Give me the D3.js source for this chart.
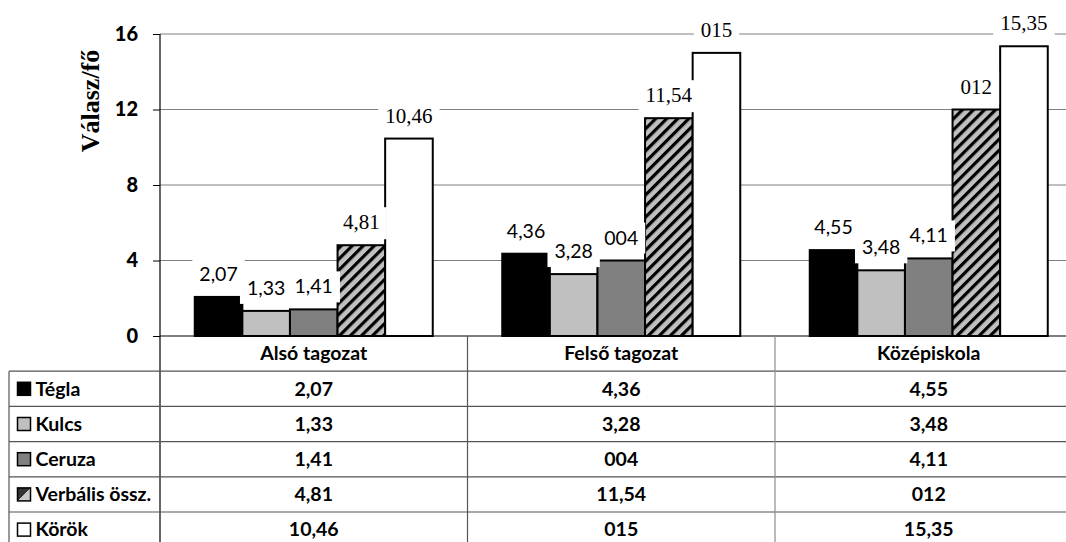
<!DOCTYPE html>
<html>
<head>
<meta charset="utf-8">
<script src="https://cdn.jsdelivr.net/npm/d3@7"></script>
<style>
  html, body { margin: 0; padding: 0; background: #fff; }
  svg { display: block; }
</style>
</head>
<body>
<svg id="chart" width="1066" height="542"></svg>
<script>
// ---- data ----
const categories = ["Alsó tagozat", "Felső tagozat", "Középiskola"];
const seriesNames = ["Tégla", "Kulcs", "Ceruza", "Verbális össz.", "Körök"];
const tegla = [2.07, 4.36, 4.55];
const kulcs = [1.33, 3.28, 3.48];
const ceruza = [1.41, 4, 4.11];
const verbalis = [4.81, 11.54, 12];
const korok = [10.46, 15, 15.35];
const yTicks = [0, 4, 8, 12, 16];
const yTitle = "Válasz/fő";

const seriesValues = [tegla, kulcs, ceruza, verbalis, korok];

// ---- layout ----
const W = 1066, H = 542;
const plotLeft = 160, plotTop = 34, plotBottom = 336;
const bandW = 307.5;
const groupW = 238;
const rowH = 35.2;
const tableLeft = 9;

const svg = d3.select("#chart");
svg.append("rect").attr("width", W).attr("height", H).attr("fill", "#fff");

const defs = svg.append("defs");
const hatch = defs.append("pattern")
  .attr("id", "hatch")
  .attr("patternUnits", "userSpaceOnUse")
  .attr("width", 7.8).attr("height", 7.8)
  .attr("patternTransform", "rotate(45)");
hatch.append("rect").attr("width", 7.8).attr("height", 7.8).attr("fill", "#c0c0c0");
hatch.append("rect").attr("x", 0).attr("width", 3.2).attr("height", 7.8).attr("fill", "#000");

const keyGrad = defs.append("linearGradient")
  .attr("id", "keyGrad").attr("x1", 0).attr("y1", 0).attr("x2", 1).attr("y2", 1);
keyGrad.append("stop").attr("offset", "50%").attr("stop-color", "#333");
keyGrad.append("stop").attr("offset", "50%").attr("stop-color", "#c8c8c8");

const fills = ["#000000", "#c0c0c0", "#808080", "url(#hatch)", "#ffffff"];
const keyFills = ["#000000", "#c0c0c0", "#808080", "url(#keyGrad)", "#ffffff"];
const serifSeries = [false, false, false, true, true];

// ---- scales ----
const x0 = d3.scaleBand()
  .domain(categories)
  .range([plotLeft, plotLeft + bandW * categories.length])
  .paddingInner(0).paddingOuter(0);
const x1 = d3.scaleBand()
  .domain(seriesNames)
  .range([(bandW - groupW) / 2, (bandW + groupW) / 2])
  .padding(0);
const y = d3.scaleLinear().domain([0, 16]).range([plotBottom, plotTop]);

const locale = d3.formatLocale({ decimal: ",", thousands: " ", grouping: [3], currency: ["", ""] });
const fmt2 = locale.format(".2f");
const fmtInt = d3.format("03d");
const fmt = v => Number.isInteger(v) ? fmtInt(v) : fmt2(v);

const sansFont = "Lato, 'Open Sans', sans-serif";
const serifFont = "'Liberation Serif', 'Times New Roman', serif";

// ---- gridlines ----
svg.append("g")
  .selectAll("line")
  .data(yTicks.filter(t => t > 0))
  .join("line")
  .attr("x1", plotLeft).attr("x2", W)
  .attr("y1", d => y(d)).attr("y2", d => y(d))
  .attr("stroke", "#7f7f7f").attr("stroke-width", 1);

// ---- y axis ----
const yAxis = d3.axisLeft(y).tickValues(yTicks).tickSize(7).tickPadding(15).tickFormat(d3.format("d"));
const yg = svg.append("g").attr("transform", `translate(${plotLeft},0)`).call(yAxis);
yg.select(".domain").remove();
yg.selectAll(".tick line").attr("stroke", "#000").attr("stroke-width", 1);
yg.selectAll(".tick text")
  .attr("font-family", sansFont)
  .attr("font-weight", "900")
  .attr("font-size", 20)
  .attr("fill", "#000");

svg.append("text")
  .attr("transform", `translate(99,101) rotate(-90)`)
  .attr("text-anchor", "middle")
  .attr("font-family", serifFont)
  .attr("font-weight", "bold")
  .attr("font-size", 26)
  .attr("fill", "#000")
  .text(yTitle);

// ---- bars ----
const barData = [];
seriesNames.forEach((s, si) => {
  categories.forEach((c, ci) => {
    barData.push({ series: s, si, cat: c, value: seriesValues[si][ci] });
  });
});

svg.append("g")
  .selectAll("rect")
  .data(barData)
  .join("rect")
  .attr("x", d => x0(d.cat) + x1(d.series))
  .attr("y", d => y(d.value))
  .attr("width", x1.bandwidth())
  .attr("height", d => y(0) - y(d.value))
  .attr("fill", d => fills[d.si])
  .attr("stroke", "#000")
  .attr("stroke-width", 2);

// ---- bar value labels (white boxed) ----
const labelG = svg.append("g");
barData.forEach(d => {
  const g = labelG.append("g");
  const cx = x0(d.cat) + x1(d.series) + x1.bandwidth() / 2;
  const t = g.append("text")
    .attr("x", cx)
    .attr("y", y(d.value) - 16)
    .attr("text-anchor", "middle")
    .attr("font-family", serifSeries[d.si] ? serifFont : sansFont)
    .attr("font-size", serifSeries[d.si] ? 21 : 19.5)
    .attr("fill", "#000")
    .text(fmt(d.value));
  const bb = t.node().getBBox();
  g.insert("rect", "text")
    .attr("x", bb.x - 7).attr("y", bb.y - 3)
    .attr("width", bb.width + 14).attr("height", bb.height + 8)
    .attr("fill", "#fff");
});

// ---- x axis line ----
svg.append("line")
  .attr("x1", plotLeft).attr("x2", W)
  .attr("y1", plotBottom).attr("y2", plotBottom)
  .attr("stroke", "#000").attr("stroke-width", 1.2);

// y axis line (continues into the data table)
svg.append("line")
  .attr("x1", plotLeft).attr("x2", plotLeft)
  .attr("y1", plotTop).attr("y2", H)
  .attr("stroke", "#000").attr("stroke-width", 1.2);

// ---- data table ----
const tableTop = plotBottom + rowH;
const table = svg.append("g");

// row separators
table.selectAll("line.row")
  .data(d3.range(seriesNames.length + 1))
  .join("line")
  .attr("class", "row")
  .attr("x1", tableLeft).attr("x2", W)
  .attr("y1", i => tableTop + i * rowH).attr("y2", i => tableTop + i * rowH)
  .attr("stroke", "#555").attr("stroke-width", 1.2);

// left border of legend column
table.append("line")
  .attr("x1", tableLeft).attr("x2", tableLeft)
  .attr("y1", tableTop).attr("y2", H)
  .attr("stroke", "#555").attr("stroke-width", 1.2);

// category separators
table.selectAll("line.col")
  .data(categories.slice(1))
  .join("line")
  .attr("class", "col")
  .attr("x1", c => x0(c)).attr("x2", c => x0(c))
  .attr("y1", plotBottom).attr("y2", H)
  .attr("stroke", (c, i) => i === 0 ? "#555" : "#8c8c8c")
  .attr("stroke-width", 1.2);

const tableSize = 19.5;

// header
table.selectAll("text.head")
  .data(categories)
  .join("text")
  .attr("class", "head")
  .attr("x", c => x0(c) + bandW / 2)
  .attr("y", plotBottom + rowH / 2)
  .attr("dy", "0.35em")
  .attr("text-anchor", "middle")
  .attr("font-family", sansFont)
  .attr("font-weight", "bold")
  .attr("font-size", tableSize)
  .attr("fill", "#000")
  .text(c => c);

// legend keys + series names
seriesNames.forEach((s, si) => {
  const cy = tableTop + si * rowH + rowH / 2;
  table.append("rect")
    .attr("x", 17.5).attr("y", cy - 6.5)
    .attr("width", 13).attr("height", 13)
    .attr("fill", keyFills[si])
    .attr("stroke", "#000").attr("stroke-width", 1.5);
  table.append("text")
    .attr("x", 35.5).attr("y", cy)
    .attr("dy", "0.35em")
    .attr("font-family", sansFont)
    .attr("font-weight", "bold")
    .attr("font-size", tableSize)
    .attr("fill", "#000")
    .text(s);
  categories.forEach((c, ci) => {
    table.append("text")
      .attr("x", x0(c) + bandW / 2).attr("y", cy)
      .attr("dy", "0.35em")
      .attr("text-anchor", "middle")
      .attr("font-family", sansFont)
      .attr("font-weight", "bold")
      .attr("font-size", tableSize)
      .attr("fill", "#000")
      .text(fmt(seriesValues[si][ci]));
  });
});
</script>
</body>
</html>
